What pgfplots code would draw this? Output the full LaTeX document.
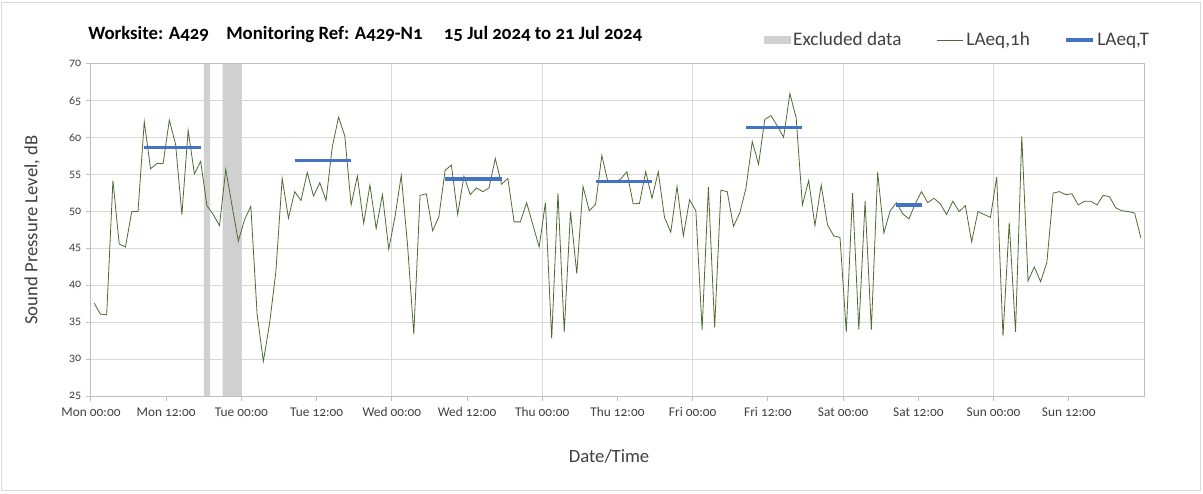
\documentclass[border=0pt]{standalone}
\usepackage{pgfplots}
\pgfplotsset{compat=1.18}
\usepackage{fontspec}
\setmainfont{Carlito}[Numbers=OldStyle]
\definecolor{lgreen}{RGB}{78,107,50}
\definecolor{lblue}{RGB}{68,114,196}
\definecolor{excl}{RGB}{208,208,208}
\definecolor{gridc}{RGB}{217,217,217}
\definecolor{axisc}{RGB}{191,191,191}
\definecolor{txt}{RGB}{64,64,64}
\pgfplotsset{
  mylineleg/.style={legend image code/.code={\draw[##1] (0pt,0pt) -- (20pt,0pt);}},
  myarealeg/.style={legend image code/.code={\fill[excl] (0pt,-3.25pt) rectangle (20pt,3.25pt);}},
}
\begin{document}
\begin{tikzpicture}[x=0.75pt,y=0.75pt]
\useasboundingbox (0,0) rectangle (1203,493);
\draw[gridc, line width=0.75pt] (1,3) rectangle (1200,490);
\begin{axis}[
  at={(68.25pt,72.75pt)}, anchor=south west,
  scale only axis, width=789.75pt, height=249pt,
  xmin=0, xmax=168, ymin=25, ymax=70,
  xtick={0,12,...,156},
  xticklabels={Mon 00:00,Mon 12:00,Tue 00:00,Tue 12:00,Wed 00:00,Wed 12:00,Thu 00:00,Thu 12:00,Fri 00:00,Fri 12:00,Sat 00:00,Sat 12:00,Sun 00:00,Sun 12:00},
  ytick={25,30,...,70},
  extra x ticks={24,48,...,144},
  extra x tick labels={},
  extra x tick style={xmajorgrids=true, major tick length=0pt},
  ymajorgrids,
  grid style={gridc, line width=0.75pt},
  axis line style={axisc, line width=0.75pt},
  tick style={axisc, line width=0.75pt},
  tick align=outside, major tick length=3.75pt,
  xtick pos=left, ytick pos=left,
  /pgf/number format/assume math mode=true,
  xticklabel style={font=\fontsize{10}{12}\selectfont, text=txt, yshift=-1.5pt},
  yticklabel style={font=\fontsize{9}{11}\selectfont, text=txt},
  xlabel={Date/Time},
  xlabel style={at={(axis description cs:0.492,-0.1988)}, anchor=base, font=\fontsize{14}{16}\selectfont, text=txt},
  ylabel={Sound Pressure Level, dB},
  ylabel style={at={(axis description cs:-0.056,0.5)}, anchor=center, font=\fontsize{14}{16}\selectfont, text=txt},
  unbounded coords=jump,
  legend columns=3,
  legend cell align=left,
  legend style={draw=none, fill=none, at={(axis description cs:1,1)}, anchor=east, xshift=6pt, yshift=18pt,
    font=\fontsize{14.4}{16}\selectfont, text=txt, inner sep=0pt,
    /tikz/every even column/.append style={column sep=24pt}},
]
\addplot[fill=excl, draw=none, myarealeg]
  coordinates {(18,25) (18,70) (19,70) (19,25)} \closedcycle;
\addlegendentry{Excluded data}
\addplot[fill=excl, draw=none, forget plot]
  coordinates {(21,25) (21,70) (24,70) (24,25)} \closedcycle;
\addplot[lgreen, line width=0.6pt, mark=none, mylineleg]
  coordinates {
(0.5,37.6) (1.5,36.1) (2.5,36.0) (3.5,54.2) (4.5,45.6) (5.5,45.2) (6.5,50.0) (7.5,50.0)
(8.5,62.2) (9.5,55.8) (10.5,56.5) (11.5,56.5) (12.5,62.4) (13.5,59.1) (14.5,49.6) (15.5,61.0)
(16.5,55.1) (17.5,56.8) (18.5,50.8) (19.5,49.6) (20.5,48.1) (21.5,55.7) (22.5,50.8) (23.5,46.0)
(24.5,48.9) (25.5,50.7) (26.5,36.1) (27.5,29.7) (28.5,34.9) (29.5,41.9) (30.5,54.5) (31.5,49.1)
(32.5,52.7) (33.5,51.5) (34.5,55.3) (35.5,52.1) (36.5,53.9) (37.5,51.5) (38.5,58.8) (39.5,62.8)
(40.5,60.2) (41.5,50.9) (42.5,54.8) (43.5,48.4) (44.5,53.6) (45.5,47.7) (46.5,52.3) (47.5,44.9)
(48.5,49.3) (49.5,54.9) (50.5,45.5) (51.5,33.4) (52.5,52.2) (53.5,52.4) (54.5,47.4) (55.5,49.3)
(56.5,55.6) (57.5,56.3) (58.5,49.6) (59.5,54.8) (60.5,52.3) (61.5,53.2) (62.5,52.7) (63.5,53.2)
(64.5,57.2) (65.5,53.7) (66.5,54.5) (67.5,48.6) (68.5,48.6) (69.5,51.2) (70.5,48.2) (71.5,45.2)
(72.5,51.2) (73.5,32.8) (74.5,52.5) (75.5,33.7) (76.5,50.0) (77.5,41.6) (78.5,53.4) (79.5,50.1)
(80.5,51.0) (81.5,57.6) (82.5,53.9) (83.5,54.0) (84.5,54.4) (85.5,55.4) (86.5,51.05) (87.5,51.1)
(88.5,55.4) (89.5,51.8) (90.5,55.4) (91.5,49.2) (92.5,47.2) (93.5,53.4) (94.5,46.7) (95.5,51.6)
(96.5,50.1) (97.5,34.0) (98.5,53.3) (99.5,34.3) (100.5,52.9) (101.5,52.7) (102.5,48.0) (103.5,49.8)
(104.5,53.2) (105.5,59.5) (106.5,56.4) (107.5,62.5) (108.5,63.0) (109.5,61.6) (110.5,60.05) (111.5,66.0)
(112.5,62.7) (113.5,50.9) (114.5,54.2) (115.5,48.1) (116.5,53.6) (117.5,48.2) (118.5,46.7) (119.5,46.5)
(120.5,33.7) (121.5,52.5) (122.5,34.0) (123.5,51.4) (124.5,34.0) (125.5,55.3) (126.5,47.1) (127.5,50.1)
(128.5,51.2) (129.5,49.7) (130.5,49.0) (131.5,51.05) (132.5,52.7) (133.5,51.2) (134.5,51.8) (135.5,51.05)
(136.5,49.6) (137.5,51.4) (138.5,50.0) (139.5,50.8) (140.5,45.9) (141.5,50.0) (142.5,49.6) (143.5,49.2)
(144.5,54.7) (145.5,33.1) (146.5,48.5) (147.5,33.7) (148.5,60.2) (149.5,40.6) (150.5,42.5) (151.5,40.5)
(152.5,43.1) (153.5,52.5) (154.5,52.7) (155.5,52.3) (156.5,52.4) (157.5,50.9) (158.5,51.4) (159.5,51.4)
(160.5,50.9) (161.5,52.2) (162.5,52.0) (163.5,50.5) (164.5,50.1) (165.5,50.0) (166.5,49.8) (167.5,46.4)
  };
\addlegendentry{LAeq,1h}
\addplot[lblue, line width=2.6pt, mark=none, mylineleg]
  coordinates {
(8.5,58.7) (17.5,58.7) (17.5,nan)
(32.5,56.9) (41.5,56.9) (41.5,nan)
(56.5,54.4) (65.5,54.4) (65.5,nan)
(80.5,54.1) (89.5,54.1) (89.5,nan)
(104.5,61.4) (113.5,61.4) (113.5,nan)
(128.5,50.9) (132.5,50.9)
  };
\addlegendentry{LAeq,T}
\end{axis}
\node[anchor=base west, inner sep=0pt, font=\bfseries\fontsize{14.1}{16}\selectfont] at (88,453.5)
  {Worksite: A429\hspace{13pt}Monitoring Ref: A429-N1\hspace{16pt}15 Jul 2024 to 21 Jul 2024};
\end{tikzpicture}
\end{document}
